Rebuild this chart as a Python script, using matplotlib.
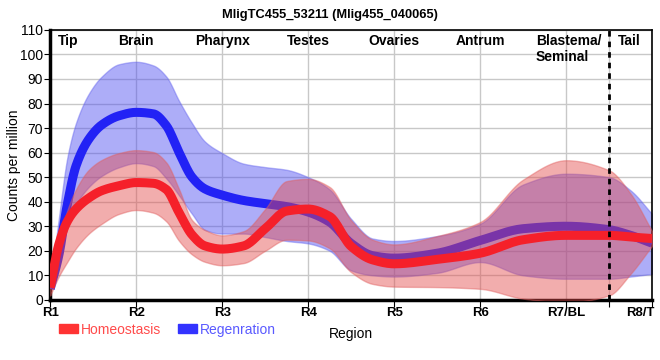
import numpy as np
import matplotlib
matplotlib.use('Agg')
import matplotlib.pyplot as plt
import matplotlib.transforms as mtransforms
from matplotlib.patches import Patch

plt.rcParams['font.family'] = ['Liberation Sans', 'DejaVu Sans']

# positions along the body (0 = R1 ... 7 = R8/T)
pos = [0, 0.1, 0.2, 0.3, 0.45, 0.6, 0.8, 1, 1.2, 1.35, 1.5, 1.65, 1.8, 2,
       2.25, 2.5, 2.75, 3, 3.25, 3.5, 3.75, 4, 4.5, 5, 5.5, 6, 6.5, 6.75, 7]

homeo_mean = [5, 22.5, 32, 37, 41.5, 44.5, 46.5, 47.8, 47.5, 45, 35.5, 26.5, 22, 20.7,
              22, 29, 36.2, 37, 34, 21.8, 16.3, 14.7, 16.5, 19, 24.5, 26.3, 26.3, 25.6, 25]
homeo_hi = [6, 23.5, 36.5, 45, 53, 57, 59.8, 61, 60.2, 56, 45, 32.5, 28.5, 26.3,
            28, 37, 48.4, 49.3, 46, 32.4, 24.5, 22.6, 26, 31.7, 49, 56.9, 52.8, 43.3, 28]
homeo_lo = [1.8, 9.5, 15.5, 21, 27, 31, 35, 36.6, 35.5, 32, 24, 18.5, 15.5, 14.1,
            15, 20, 24.5, 24.2, 21, 11.3, 6.5, 5.4, 5.2, 4.5, 0.5, -1, 1.8, 10.6, 22]

regen_mean = [4.5, 18, 39, 54.5, 65.5, 71.3, 75, 76.4, 75.8, 71, 60, 50, 45.2, 42.7,
              40.5, 39.2, 38, 35.8, 31.7, 23, 18, 17, 19, 24.2, 29, 30, 28.6, 26.3, 23.1]
regen_hi = [5, 33, 58, 72, 84, 91, 96, 97, 95.5, 91, 81, 72, 64.5, 59.8,
            55.5, 54.1, 53, 50, 45, 33, 25, 24, 26, 31, 47, 51.4, 50, 44.6, 35]
regen_lo = [3, 20, 32, 39, 46, 50.5, 54, 55.7, 54.5, 49.5, 42.5, 35, 28.5, 27,
            27, 25.6, 24, 23, 20, 12, 10, 9.5, 11, 15.4, 10, 8.6, 8.6, 9.5, 10.6]

tick_labels = ['R1', 'R2', 'R3', 'R4', 'R5', 'R6', 'R7/BL', 'R8/T']
regions = ['Tip', 'Brain', 'Pharynx', 'Testes', 'Ovaries', 'Antrum', 'Blastema/\nSeminal', 'Tail']
region_x = [0.21, 1, 2, 3, 4, 5, 5.65, 6.73]


def smooth(x, y, n=16):
    # monotone cubic (Fritsch-Carlson) through the read points
    x = np.asarray(x, float)
    y = np.asarray(y, float)
    h = np.diff(x)
    d = np.diff(y) / h
    m = np.zeros_like(y)
    m[0], m[-1] = d[0], d[-1]
    for i in range(1, len(x) - 1):
        if d[i-1] * d[i] > 0:
            w1 = 2*h[i] + h[i-1]
            w2 = h[i] + 2*h[i-1]
            m[i] = (w1 + w2) / (w1/d[i-1] + w2/d[i])
    xs, ys = [], []
    t = np.linspace(0, 1, n, endpoint=False)
    for i in range(len(x) - 1):
        h00 = 2*t**3 - 3*t**2 + 1
        h10 = t**3 - 2*t**2 + t
        h01 = -2*t**3 + 3*t**2
        h11 = t**3 - t**2
        xs.append(x[i] + t*h[i])
        ys.append(h00*y[i] + h10*h[i]*m[i] + h01*y[i+1] + h11*h[i]*m[i+1])
    xs.append([x[-1]])
    ys.append([y[-1]])
    return np.concatenate(xs), np.concatenate(ys)


fig = plt.figure(figsize=(6.6, 3.6), dpi=100)
ax = fig.add_axes([0.076, 0.167, 0.912, 0.75])

red = '#f5202a'
blue = '#2222f5'

xs, lo = smooth(pos, regen_lo)
xs, hi = smooth(pos, regen_hi)
ax.fill_between(xs, lo, hi, color='#4a4af0', alpha=0.45, lw=1, ec='#6666ee', zorder=2)
xs, mid = smooth(pos, regen_mean)
ax.plot(xs, mid, color=blue, lw=6.5, solid_capstyle='butt', zorder=3)

xs, lo = smooth(pos, homeo_lo)
xs, hi = smooth(pos, homeo_hi)
ax.fill_between(xs, lo, hi, color='#e44a4a', alpha=0.45, lw=1, ec='#e06060', zorder=4)
xs, mid = smooth(pos, homeo_mean)
ax.plot(xs, mid, color=red, lw=6.5, solid_capstyle='butt', zorder=5)

ax.axvline(6.5, color='black', lw=2, ls=(0, (2, 1.8)), zorder=6)

ax.set_xlim(0, 7)
ax.set_ylim(0, 110)
ax.set_xticks(list(range(8)) + [6.5])
ax.set_xticklabels(tick_labels + [''], fontsize=9.5, fontweight='bold')
ax.set_yticks(range(0, 111, 10))
ax.tick_params(axis='y', labelsize=10, length=4, pad=1)
ax.tick_params(axis='x', length=5, pad=0)
ax.grid(True, color='#c8c8c8', lw=1, zorder=0)
ax.set_axisbelow(True)
for s in ['left', 'bottom']:
    ax.spines[s].set_linewidth(2.5)
for s in ['top', 'right']:
    ax.spines[s].set_linewidth(1.2)

# last label sits at the right edge, nudge it in so it is not cut
last = ax.get_xticklabels()[7]
last.set_transform(last.get_transform() + mtransforms.ScaledTranslation(-0.12, 0, fig.dpi_scale_trans))

for name, rx in zip(regions, region_x):
    ax.text(rx, 108.5, name, ha='center' if '\n' not in name else 'left', va='top',
            fontsize=10, fontweight='bold', zorder=7)

ax.set_ylabel('Counts per million', fontsize=10)
ax.yaxis.set_label_coords(-0.048, 0.5)
ax.set_xlabel('Region', fontsize=10)
ax.xaxis.set_label_coords(0.5, -0.1)
fig.text(0.5, 0.975, 'MligTC455_53211 (Mlig455_040065)', ha='center', va='top',
         fontsize=9.3, fontweight='bold')

handles = [Patch(color='#ff3333'), Patch(color='#3333ff')]
fig.legend(handles, ['Homeostasis', 'Regenration'], loc='lower left',
           bbox_to_anchor=(0.07, 0.03), ncol=2, frameon=False, fontsize=10,
           labelcolor=['#ff4b4b', '#5a5aff'], handlelength=1.4, handleheight=0.6,
           handletextpad=0.2, columnspacing=1.2)

fig.savefig('out.png', dpi=100)
